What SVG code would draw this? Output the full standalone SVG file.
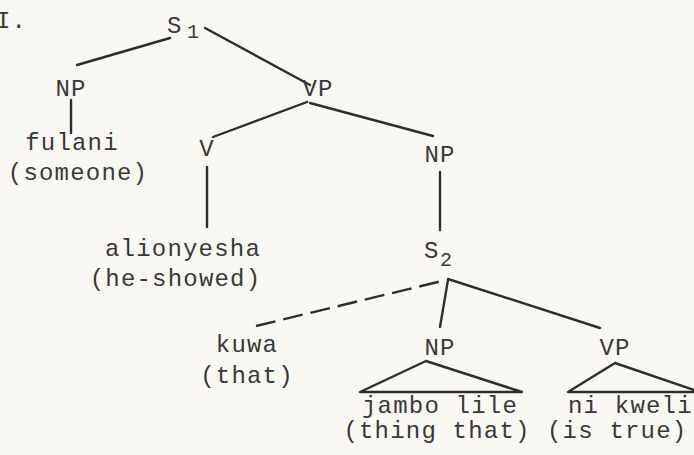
<svg xmlns="http://www.w3.org/2000/svg" width="694" height="455" viewBox="0 0 694 455">
<style>
text{font-family:"Liberation Mono","Courier New",monospace;font-size:24px;letter-spacing:1.2px;fill:#383838;text-anchor:middle}
.st{text-anchor:start}
.sub{font-size:20px;text-anchor:start}
line{stroke:#2e2e2e;stroke-width:2.4;stroke-linecap:round}
.dash{stroke-dasharray:20 8;stroke-linecap:butt}
.tri{fill:none;stroke:#2e2e2e;stroke-width:2.4;stroke-linejoin:round}
</style>
<rect width="694" height="455" fill="#f9f8f3"/>
<g id="connectors">
<line x1="170" y1="38" x2="77" y2="65"/>
<line x1="205" y1="28" x2="310" y2="85"/>
<line x1="71" y1="100" x2="71" y2="133"/>
<line x1="307" y1="102" x2="213" y2="137"/>
<line x1="310" y1="103" x2="433" y2="136"/>
<line x1="207" y1="167" x2="207" y2="227"/>
<line x1="440" y1="172" x2="440" y2="230"/>
<line x1="448" y1="280" x2="440" y2="327"/>
<line x1="448" y1="279" x2="600" y2="328"/>
<line class="dash" x1="256" y1="326" x2="446" y2="280"/>
<path class="tri" d="M360 392 L426 361 L522 392 Z"/>
<path class="tri" d="M568 392 L615 363 L700 392 Z"/>
</g>
<g id="label-I"><text class="st" x="-4" y="28">I.</text></g>
<g id="S1"><text class="st" x="167" y="33">S</text><text class="sub" x="187" y="38">1</text></g>
<g id="NP1"><text x="71" y="96">NP</text><text x="72" y="150">fulani</text><text x="78" y="180">(someone)</text></g>
<g id="VP1"><text x="318" y="96">VP</text></g>
<g id="V"><text x="207" y="156">V</text><text x="183" y="256">alionyesha</text><text x="175.5" y="286">(he-showed)</text></g>
<g id="NP2"><text x="440" y="162">NP</text></g>
<g id="S2"><text class="st" x="424" y="258">S</text><text class="sub" x="440" y="266">2</text></g>
<g id="kuwa"><text x="247" y="352">kuwa</text><text x="247" y="383">(that)</text></g>
<g id="NP3"><text x="440" y="355">NP</text><text x="440" y="413">jambo lile</text><text x="437" y="438">(thing that)</text></g>
<g id="VP3"><text x="615" y="355">VP</text><text class="st" x="568" y="413">ni kweli</text><text class="st" x="547" y="438">(is true)</text></g>
</svg>
